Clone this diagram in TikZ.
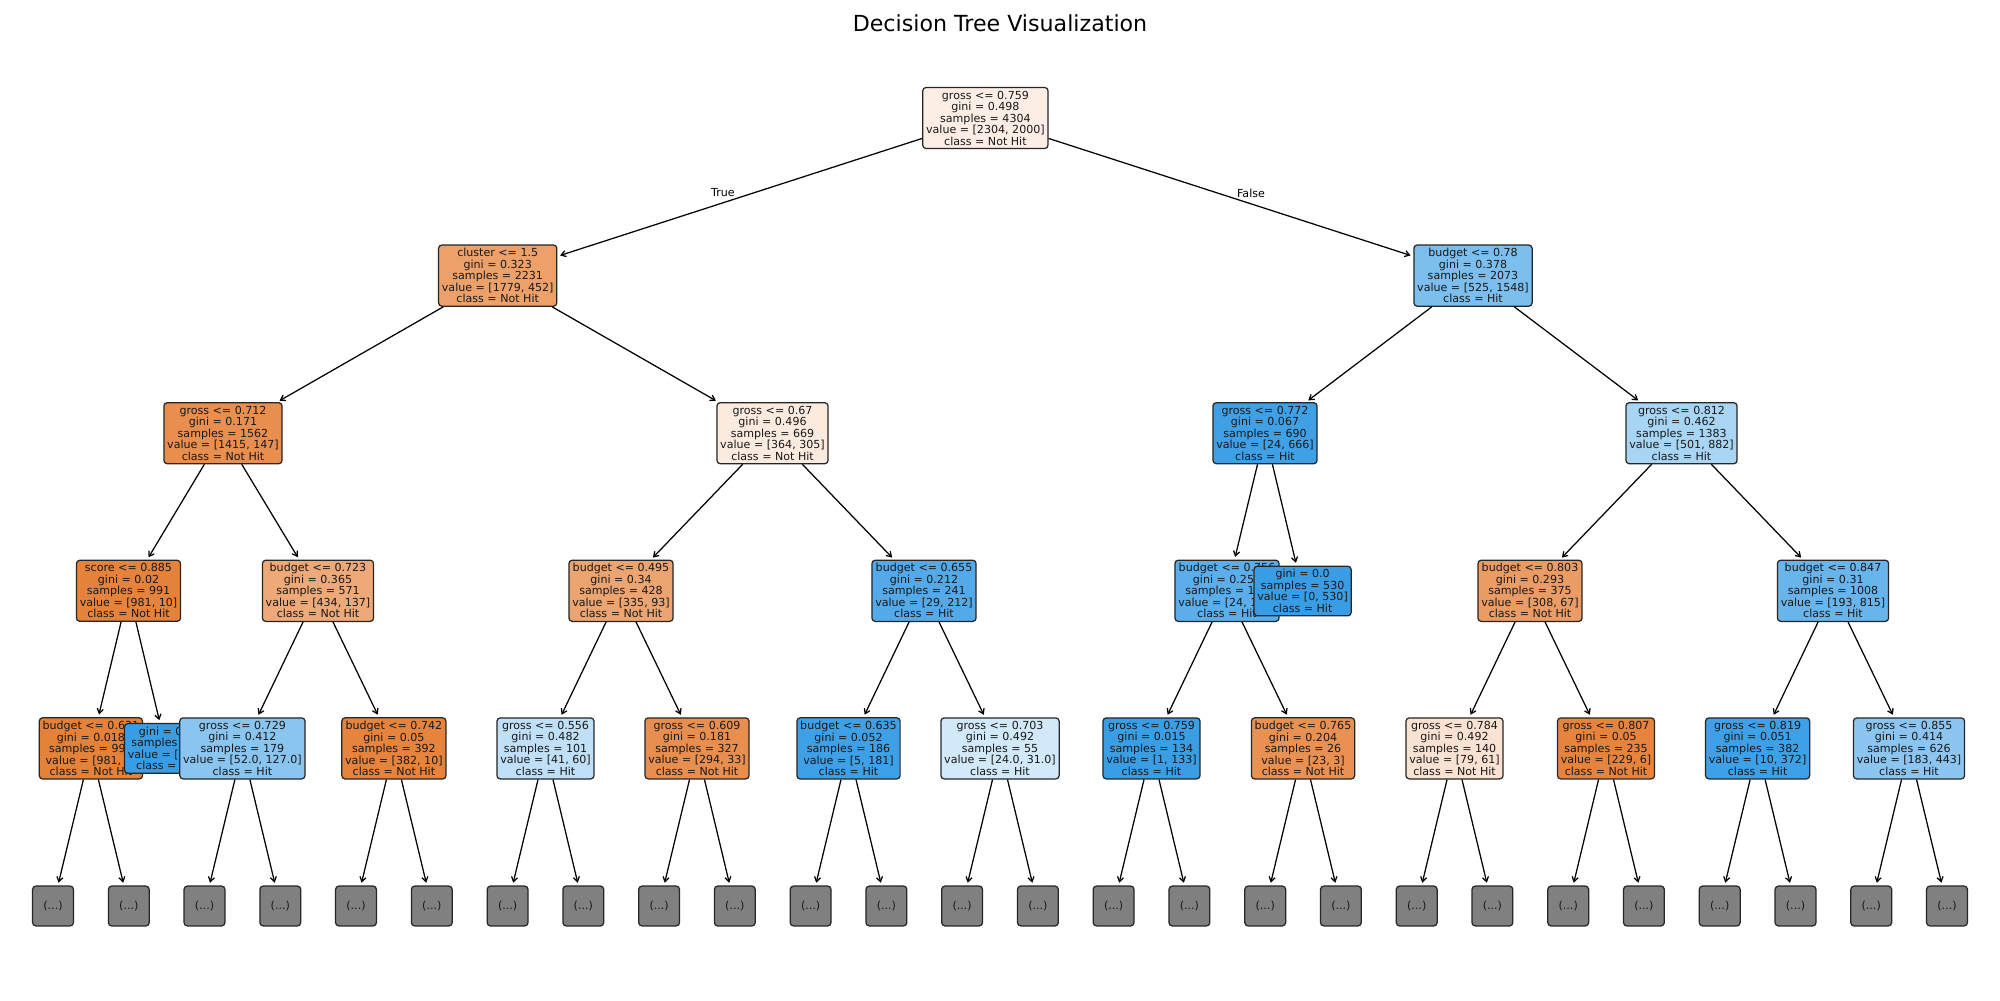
\documentclass[tikz,border=0pt]{standalone}
\usepackage{fontspec}
\setmainfont{DejaVu Sans}
\usetikzlibrary{arrows.meta}

% class colours (Not Hit = orange, Hit = blue), blended by purity
\definecolor{cRoot}{RGB}{252,238,229}
\definecolor{cCluster}{RGB}{236,161,107}
\definecolor{cBa}{RGB}{124,190,238}
\definecolor{cGa}{RGB}{232,142,78}
\definecolor{cGb}{RGB}{251,235,223}
\definecolor{cGc}{RGB}{64,160,230}
\definecolor{cGd}{RGB}{169,213,244}
\definecolor{cScore}{RGB}{229,130,59}
\definecolor{cBb}{RGB}{237,169,120}
\definecolor{cBc}{RGB}{236,164,112}
\definecolor{cBd}{RGB}{84,170,233}
\definecolor{cBe}{RGB}{92,174,234}
\definecolor{cPureHit}{RGB}{57,157,229}
\definecolor{cBf}{RGB}{235,156,100}
\definecolor{cBg}{RGB}{104,180,235}
\definecolor{cL4a}{RGB}{229,130,58}
\definecolor{cL4b}{RGB}{138,197,240}
\definecolor{cL4c}{RGB}{230,132,62}
\definecolor{cL4d}{RGB}{192,224,247}
\definecolor{cL4e}{RGB}{232,143,79}
\definecolor{cL4f}{RGB}{62,160,230}
\definecolor{cL4g}{RGB}{210,233,249}
\definecolor{cL4h}{RGB}{58,158,229}
\definecolor{cL4i}{RGB}{232,145,83}
\definecolor{cL4j}{RGB}{249,226,210}
\definecolor{cL4k}{RGB}{230,132,62}
\definecolor{cL4l}{RGB}{62,160,230}
\definecolor{cL4m}{RGB}{139,197,240}
\definecolor{cMore}{RGB}{128,128,128}

\begin{document}
\begin{tikzpicture}[x=0.01in, y=-0.01in,
  treenode/.style={draw=black!85, line width=0.9pt, rounded corners=2.4pt,
    inner xsep=2.4pt, inner ysep=2.4pt, align=center,
    font=\fontsize{8}{8.3}\selectfont, text=black!90},
  morenode/.style={treenode, fill=cMore, minimum width=29.5pt, minimum height=28.8pt},
  link/.style={line width=0.9pt, -{Straight Barb[length=3.4pt,width=4.4pt]}, shorten >=2pt},
  edgelabel/.style={font=\fontsize{8}{9}\selectfont, inner sep=0pt},
]
\fill[white] (0,0) rectangle (2000,1000);
\useasboundingbox (0,0) rectangle (2000,1000);

\node (title) at (1000,23) {\fontsize{16}{19}\selectfont Decision Tree Visualization};

% level 0
\node[treenode, fill=cRoot] (root) at (985.4,118) {gross <= 0.759\\gini = 0.498\\samples = 4304\\value = [2304, 2000]\\class = Not Hit};

% ---------------- left subtree ----------------
\node[treenode, fill=cCluster] (cl) at (497.7,275.6) {cluster <= 1.5\\gini = 0.323\\samples = 2231\\value = [1779, 452]\\class = Not Hit};
\draw[link] (root) -- (cl);
\node[edgelabel] (lblT) at (723,193) {True};

\node[treenode, fill=cGa] (ga) at (223,433.2) {gross <= 0.712\\gini = 0.171\\samples = 1562\\value = [1415, 147]\\class = Not Hit};
\draw[link] (cl) -- (ga);

\node[treenode, fill=cScore] (sc) at (128.5,590.8) {score <= 0.885\\gini = 0.02\\samples = 991\\value = [981, 10]\\class = Not Hit};
\draw[link] (ga) -- (sc);

\node[treenode, fill=cL4a] (n1) at (90.9,748.4) {budget <= 0.631\\gini = 0.018\\samples = 990\\value = [981, 9]\\class = Not Hit};
\draw[link] (sc) -- (n1);
\node[morenode] (m0) at (53,906) {(...)};
\draw[link] (n1) -- (m0);
\node[morenode] (m1) at (128.8,906) {(...)};
\draw[link] (n1) -- (m1);

\node[treenode, fill=cPureHit] (lfB) at (166,748.4) {gini = 0.0\\samples = 1\\value = [0, 1]\\class = Hit};
\draw[link] (sc) -- (lfB);

\node[treenode, fill=cBb] (bb) at (318,590.8) {budget <= 0.723\\gini = 0.365\\samples = 571\\value = [434, 137]\\class = Not Hit};
\draw[link] (ga) -- (bb);

\node[treenode, fill=cL4b] (n2) at (242.4,748.4) {gross <= 0.729\\gini = 0.412\\samples = 179\\value = [52.0, 127.0]\\class = Hit};
\draw[link] (bb) -- (n2);
\node[morenode] (m2) at (204.5,906) {(...)};
\draw[link] (n2) -- (m2);
\node[morenode] (m3) at (280.3,906) {(...)};
\draw[link] (n2) -- (m3);

\node[treenode, fill=cL4c] (n3) at (393.9,748.4) {budget <= 0.742\\gini = 0.05\\samples = 392\\value = [382, 10]\\class = Not Hit};
\draw[link] (bb) -- (n3);
\node[morenode] (m4) at (356,906) {(...)};
\draw[link] (n3) -- (m4);
\node[morenode] (m5) at (431.8,906) {(...)};
\draw[link] (n3) -- (m5);

\node[treenode, fill=cGb] (gb) at (772.5,433.2) {gross <= 0.67\\gini = 0.496\\samples = 669\\value = [364, 305]\\class = Not Hit};
\draw[link] (cl) -- (gb);

\node[treenode, fill=cBc] (bc) at (621,590.8) {budget <= 0.495\\gini = 0.34\\samples = 428\\value = [335, 93]\\class = Not Hit};
\draw[link] (gb) -- (bc);

\node[treenode, fill=cL4d] (n4) at (545.5,748.4) {gross <= 0.556\\gini = 0.482\\samples = 101\\value = [41, 60]\\class = Hit};
\draw[link] (bc) -- (n4);
\node[morenode] (m6) at (507.6,906) {(...)};
\draw[link] (n4) -- (m6);
\node[morenode] (m7) at (583.3,906) {(...)};
\draw[link] (n4) -- (m7);

\node[treenode, fill=cL4e] (n5) at (697,748.4) {gross <= 0.609\\gini = 0.181\\samples = 327\\value = [294, 33]\\class = Not Hit};
\draw[link] (bc) -- (n5);
\node[morenode] (m8) at (659.1,906) {(...)};
\draw[link] (n5) -- (m8);
\node[morenode] (m9) at (734.8,906) {(...)};
\draw[link] (n5) -- (m9);

\node[treenode, fill=cBd] (bd) at (924,590.8) {budget <= 0.655\\gini = 0.212\\samples = 241\\value = [29, 212]\\class = Hit};
\draw[link] (gb) -- (bd);

\node[treenode, fill=cL4f] (n6) at (848.5,748.4) {budget <= 0.635\\gini = 0.052\\samples = 186\\value = [5, 181]\\class = Hit};
\draw[link] (bd) -- (n6);
\node[morenode] (m10) at (810.6,906) {(...)};
\draw[link] (n6) -- (m10);
\node[morenode] (m11) at (886.4,906) {(...)};
\draw[link] (n6) -- (m11);

\node[treenode, fill=cL4g] (n7) at (1000,748.4) {gross <= 0.703\\gini = 0.492\\samples = 55\\value = [24.0, 31.0]\\class = Hit};
\draw[link] (bd) -- (n7);
\node[morenode] (m12) at (962.1,906) {(...)};
\draw[link] (n7) -- (m12);
\node[morenode] (m13) at (1037.9,906) {(...)};
\draw[link] (n7) -- (m13);

% ---------------- right subtree ----------------
\node[treenode, fill=cBa] (ba) at (1473,275.6) {budget <= 0.78\\gini = 0.378\\samples = 2073\\value = [525, 1548]\\class = Hit};
\draw[link] (root) -- (ba);
\node[edgelabel] (lblF) at (1251,193) {False};

\node[treenode, fill=cGc] (gc) at (1265,433.2) {gross <= 0.772\\gini = 0.067\\samples = 690\\value = [24, 666]\\class = Hit};
\draw[link] (ba) -- (gc);

\node[treenode, fill=cBe] (be) at (1227,590.8) {budget <= 0.756\\gini = 0.255\\samples = 160\\value = [24, 136]\\class = Hit};
\draw[link] (gc) -- (be);

\node[treenode, fill=cL4h] (n8) at (1151.5,748.4) {gross <= 0.759\\gini = 0.015\\samples = 134\\value = [1, 133]\\class = Hit};
\draw[link] (be) -- (n8);
\node[morenode] (m14) at (1113.6,906) {(...)};
\draw[link] (n8) -- (m14);
\node[morenode] (m15) at (1189.4,906) {(...)};
\draw[link] (n8) -- (m15);

\node[treenode, fill=cL4i] (n9) at (1303,748.4) {budget <= 0.765\\gini = 0.204\\samples = 26\\value = [23, 3]\\class = Not Hit};
\draw[link] (be) -- (n9);
\node[morenode] (m16) at (1265.2,906) {(...)};
\draw[link] (n9) -- (m16);
\node[morenode] (m17) at (1340.9,906) {(...)};
\draw[link] (n9) -- (m17);

\node[treenode, fill=cPureHit] (lfA) at (1302.6,591) {gini = 0.0\\samples = 530\\value = [0, 530]\\class = Hit};
\draw[link] (gc) -- (lfA);

\node[treenode, fill=cGd] (gd) at (1681.5,433.2) {gross <= 0.812\\gini = 0.462\\samples = 1383\\value = [501, 882]\\class = Hit};
\draw[link] (ba) -- (gd);

\node[treenode, fill=cBf] (bf) at (1530,590.8) {budget <= 0.803\\gini = 0.293\\samples = 375\\value = [308, 67]\\class = Not Hit};
\draw[link] (gd) -- (bf);

\node[treenode, fill=cL4j] (n10) at (1454.5,748.4) {gross <= 0.784\\gini = 0.492\\samples = 140\\value = [79, 61]\\class = Not Hit};
\draw[link] (bf) -- (n10);
\node[morenode] (m18) at (1416.7,906) {(...)};
\draw[link] (n10) -- (m18);
\node[morenode] (m19) at (1492.4,906) {(...)};
\draw[link] (n10) -- (m19);

\node[treenode, fill=cL4k] (n11) at (1606,748.4) {gross <= 0.807\\gini = 0.05\\samples = 235\\value = [229, 6]\\class = Not Hit};
\draw[link] (bf) -- (n11);
\node[morenode] (m20) at (1568.2,906) {(...)};
\draw[link] (n11) -- (m20);
\node[morenode] (m21) at (1643.9,906) {(...)};
\draw[link] (n11) -- (m21);

\node[treenode, fill=cBg] (bg) at (1833,590.8) {budget <= 0.847\\gini = 0.31\\samples = 1008\\value = [193, 815]\\class = Hit};
\draw[link] (gd) -- (bg);

\node[treenode, fill=cL4l] (n12) at (1757.6,748.4) {gross <= 0.819\\gini = 0.051\\samples = 382\\value = [10, 372]\\class = Hit};
\draw[link] (bg) -- (n12);
\node[morenode] (m22) at (1719.7,906) {(...)};
\draw[link] (n12) -- (m22);
\node[morenode] (m23) at (1795.5,906) {(...)};
\draw[link] (n12) -- (m23);

\node[treenode, fill=cL4m] (n13) at (1909,748.4) {gross <= 0.855\\gini = 0.414\\samples = 626\\value = [183, 443]\\class = Hit};
\draw[link] (bg) -- (n13);
\node[morenode] (m24) at (1871.2,906) {(...)};
\draw[link] (n13) -- (m24);
\node[morenode] (m25) at (1947,906) {(...)};
\draw[link] (n13) -- (m25);

\end{tikzpicture}
\end{document}
